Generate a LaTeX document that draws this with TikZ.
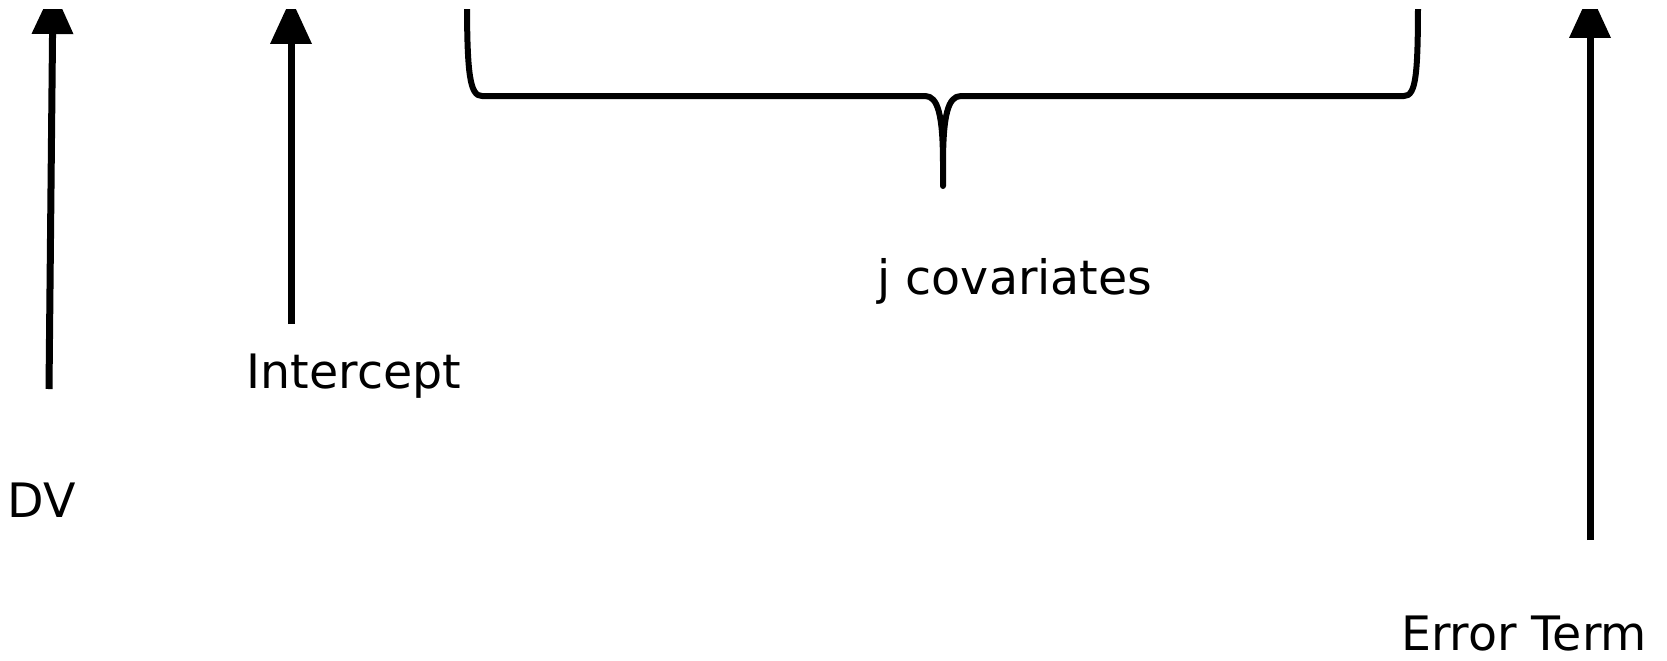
\documentclass[tikz,border=0pt]{standalone}
\usepackage{fontspec}
\setmainfont{DejaVu Sans}
\usetikzlibrary{arrows.meta, positioning}

\begin{document}
\begin{tikzpicture}[x=0.02cm, y=-0.02cm,
    uparrow/.style={line width=0.14cm, -{Triangle[width=0.8cm, length=0.92cm]}},
    bracepath/.style={line width=0.12cm, line cap=round, line join=round},
    lbl/.style={anchor=base, inner sep=0pt, font=\fontsize{27}{32}\selectfont}]
    \useasboundingbox (0,0) rectangle (1667,660);
    % Labels
    \node[lbl] (dv) at (42,517) {DV};
    \node[lbl] (icpt) at (354,388) {Intercept};
    \node[lbl] (cov) at (1015,294) {j covariates};
    \node[lbl] (err) at (1524,650) {Error Term};
    % Arrow ends
    \coordinate (dvtail) at (49,389);
    \coordinate (dvtip) at (53,-12);
    \coordinate (icpttail) at (291,324);
    \coordinate (icpttip) at (291,-2);
    \coordinate (errtail) at (1590,540);
    \coordinate (errtip) at (1590,-8);
    \coordinate (bracel) at (467,0);
    \coordinate (bracer) at (1418,0);
    \coordinate (bracetip) at (943,186);
    \begin{scope}
        \clip (0,9) rectangle (1667,660);
        % Arrows
        \draw[uparrow] (dvtail) -- (dvtip);
        \draw[uparrow] (icpttail) -- (icpttip);
        \draw[uparrow] (errtail) -- (errtip);
        % Brace over the covariates
        \draw[bracepath] (bracel) .. controls (467,75) and (470,96) .. (482,96)
            -- (925,96) .. controls (938,96) and (943,115) .. (943,165) -- (bracetip)
            -- (943,165) .. controls (943,115) and (948,96) .. (961,96)
            -- (1404,96) .. controls (1416,96) and (1418,75) .. (bracer);
    \end{scope}
\end{tikzpicture}
\end{document}
